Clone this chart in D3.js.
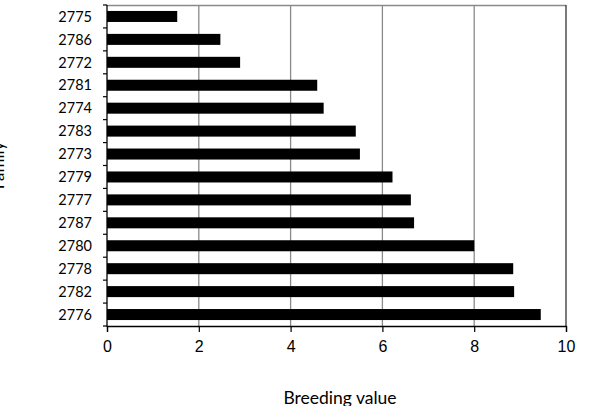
<!DOCTYPE html>
<html>
<head>
<meta charset="utf-8">
<script src="https://cdn.jsdelivr.net/npm/d3@7"></script>
<style>
  body { margin: 0; background: #fff; }
  svg { display: block; }
</style>
</head>
<body>
<div id="chart"></div>
<script>
var families = ['2775', '2786', '2772', '2781', '2774', '2783', '2773', '2779', '2777', '2787', '2780', '2778', '2782', '2776']
var breeding_values = [1.53, 2.47, 2.9, 4.58, 4.72, 5.42, 5.51, 6.22, 6.62, 6.69, 8.0, 8.85, 8.87, 9.45]
var x_ticks = [0, 2, 4, 6, 8, 10]

var w = 597
var h = 406
var plot_left = 107
var plot_right = 566
var plot_top = 5
var plot_bottom = 326

var svg = d3.select('#chart').append('svg')
  .attr('width', w)
  .attr('height', h)

var x = d3.scaleLinear().domain([0, 10]).range([plot_left, plot_right])
var y = d3.scaleBand().domain(families).range([plot_top, plot_bottom]).paddingInner(0.52).paddingOuter(0.26)

// gridlines
svg.append('g').selectAll('line')
  .data(x_ticks.filter(function (t) { return t > 0 && t < 10 }))
  .enter().append('line')
  .attr('x1', function (d) { return x(d) })
  .attr('x2', function (d) { return x(d) })
  .attr('y1', plot_top)
  .attr('y2', plot_bottom)
  .attr('stroke', '#8a8a8a')
  .attr('stroke-width', 1.3)

// plot border top / right
svg.append('line')
  .attr('x1', plot_left).attr('x2', plot_right).attr('y1', plot_top + 0.5).attr('y2', plot_top + 0.5)
  .attr('stroke', '#8a8a8a').attr('stroke-width', 1.3)
svg.append('line')
  .attr('x1', plot_right).attr('x2', plot_right).attr('y1', plot_top).attr('y2', plot_bottom)
  .attr('stroke', '#333').attr('stroke-width', 1.3)

// bars
svg.append('g').selectAll('rect')
  .data(families)
  .enter().append('rect')
  .attr('x', x(0))
  .attr('y', function (d) { return y(d) })
  .attr('width', function (d, i) { return x(breeding_values[i]) - x(0) })
  .attr('height', y.bandwidth())
  .attr('fill', '#000')

// x axis
var xAxis = svg.append('g')
  .attr('transform', 'translate(0,' + plot_bottom + ')')
  .call(d3.axisBottom(x).tickValues(x_ticks).tickSize(6).tickPadding(9).tickFormat(d3.format('d')))
xAxis.select('.domain').attr('stroke', '#000').attr('stroke-width', 1.3)
xAxis.selectAll('.tick line').attr('stroke', '#000').attr('stroke-width', 1.2)
xAxis.selectAll('.tick text')
  .style('font-family', '"Liberation Sans", Arial, sans-serif')
  .style('font-size', '16px')
  .attr('fill', '#000')

// y axis: line + boundary ticks
svg.append('line')
  .attr('x1', plot_left).attr('x2', plot_left).attr('y1', plot_top).attr('y2', plot_bottom + 1)
  .attr('stroke', '#000').attr('stroke-width', 1.3)
var step = y.step()
var boundaries = families.map(function (d) { return y(d) - (step - y.bandwidth()) / 2 })
boundaries.push(plot_bottom)
svg.append('g').selectAll('line')
  .data(boundaries)
  .enter().append('line')
  .attr('x1', plot_left - 4)
  .attr('x2', plot_left)
  .attr('y1', function (d) { return d })
  .attr('y2', function (d) { return d })
  .attr('stroke', '#000')
  .attr('stroke-width', 1.2)

svg.append('g').selectAll('text')
  .data(families)
  .enter().append('text')
  .text(function (d) { return d })
  .attr('x', 92)
  .attr('y', function (d) { return y(d) + y.bandwidth() / 2 })
  .attr('dy', '0.36em')
  .attr('text-anchor', 'end')
  .style('font-family', 'Lato, "Open Sans", sans-serif')
  .style('font-size', '14.5px')
  .attr('fill', '#000')

// axis titles
svg.append('text')
  .text('Breeding value')
  .attr('x', 340)
  .attr('y', 404)
  .attr('text-anchor', 'middle')
  .style('font-family', 'Lato, "Open Sans", sans-serif')
  .style('font-size', '17.5px')
  .attr('fill', '#000')

svg.append('text')
  .text('Family')
  .attr('transform', 'translate(4,' + (plot_top + plot_bottom) / 2 + ') rotate(-90)')
  .attr('text-anchor', 'middle')
  .style('font-family', 'Lato, "Open Sans", sans-serif')
  .style('font-size', '17px')
  .attr('fill', '#000')
</script>
</body>
</html>
